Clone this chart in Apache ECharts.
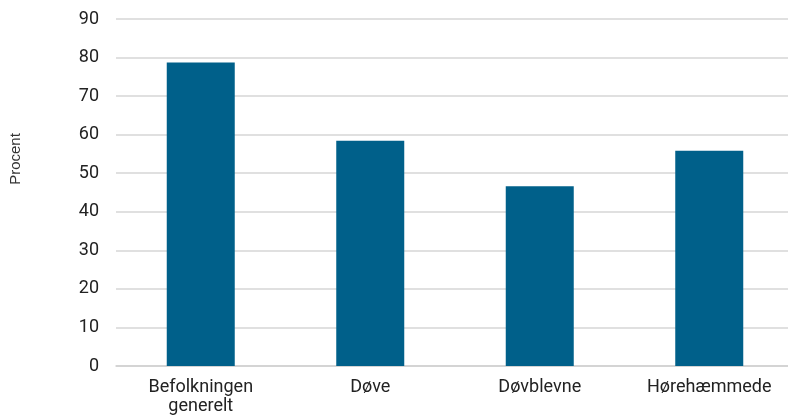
<!DOCTYPE html>
<html>
<head>
<meta charset="utf-8">
<script src="https://cdn.jsdelivr.net/npm/echarts@6/dist/echarts.min.js"></script>
<style>
  html, body { margin: 0; padding: 0; background: #fff; }
  #chart { width: 788px; height: 416px; }
</style>
</head>
<body>
<div id="chart"></div>
<script>
const categories = ['Befolkningen\ngenerelt', 'Døve', 'Døvblevne', 'Hørehæmmede'];
const values = [78.7, 58.4, 46.6, 55.8];
const yTicks = { min: 0, max: 90, step: 10 };
const yAxisTitle = 'Procent';

const chart = echarts.init(document.getElementById('chart'));
chart.setOption({
  animation: false,
  grid: { left: 116, right: -6, top: 19, bottom: 50, outerBoundsMode: 'none', containLabel: false },
  graphic: [{
    type: 'text',
    x: 15.5,
    y: 159,
    rotation: Math.PI / 2,
    style: {
      text: yAxisTitle,
      fill: '#333',
      fontSize: 15,
      fontFamily: 'Liberation Sans',
      align: 'center',
      verticalAlign: 'middle'
    }
  }],
  xAxis: {
    type: 'category',
    data: categories,
    axisTick: { show: false },
    axisLine: { lineStyle: { color: '#d0d0d0', width: 1.5 } },
    axisLabel: {
      color: '#222',
      fontSize: 18,
      fontFamily: 'Roboto',
      lineHeight: 19,
      margin: 12
    }
  },
  yAxis: {
    type: 'value',
    min: yTicks.min,
    max: yTicks.max,
    interval: yTicks.step,
    axisLabel: { color: '#222', fontSize: 18, fontFamily: 'Roboto', margin: 17 },
    splitLine: { lineStyle: { color: '#d6d6d6', width: 1.5 } },
    axisLine: { show: false },
    axisTick: { show: false }
  },
  series: [{
    type: 'bar',
    data: values,
    barWidth: 68,
    itemStyle: { color: '#00608a' }
  }]
});
</script>
</body>
</html>
